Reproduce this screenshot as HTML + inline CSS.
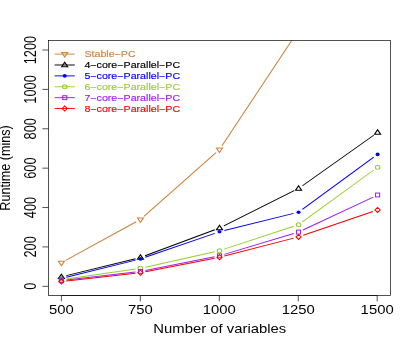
<!DOCTYPE html>
<html><head><meta charset="utf-8"><title>plot</title>
<style>html,body{margin:0;padding:0;background:#fff;}
svg{display:block;opacity:0.999;will-change:transform}
text{font-family:"Liberation Sans",sans-serif;}
</style></head><body>
<svg width="415" height="346" viewBox="0 0 415 346">
<rect width="415" height="346" fill="#fff"/>
<defs><clipPath id="cp"><rect x="41.02" y="40.55" width="289.83" height="254.95"/></clipPath></defs>
<g transform="scale(1.18,1)">
<g clip-path="url(#cp)">
<line x1="55.64" y1="260.46" x2="115.42" y2="221.74" stroke="#CD853F" stroke-width="0.95"/>
<line x1="122.00" y1="216.30" x2="183.04" y2="152.70" stroke="#CD853F" stroke-width="0.95"/>
<line x1="188.12" y1="145.85" x2="250.90" y2="33.95" stroke="#CD853F" stroke-width="0.95"/>
<g transform="translate(52.03,262.80) scale(1.0085,1)"><path d="M0 2.95L2.55 -1.48L-2.55 -1.48Z" stroke="#CD853F" stroke-width="1.0" fill="none"/></g>
<g transform="translate(119.03,219.40) scale(1.0085,1)"><path d="M0 2.95L2.55 -1.48L-2.55 -1.48Z" stroke="#CD853F" stroke-width="1.0" fill="none"/></g>
<g transform="translate(186.02,149.60) scale(1.0085,1)"><path d="M0 2.95L2.55 -1.48L-2.55 -1.48Z" stroke="#CD853F" stroke-width="1.0" fill="none"/></g>
<g transform="translate(253.01,30.20) scale(1.0085,1)"><path d="M0 2.95L2.55 -1.48L-2.55 -1.48Z" stroke="#CD853F" stroke-width="1.0" fill="none"/></g>
<line x1="56.17" y1="275.61" x2="114.89" y2="258.69" stroke="#000000" stroke-width="0.95"/>
<line x1="122.96" y1="255.77" x2="182.08" y2="229.73" stroke="#000000" stroke-width="0.95"/>
<line x1="189.72" y1="225.82" x2="249.30" y2="190.68" stroke="#000000" stroke-width="0.95"/>
<line x1="256.31" y1="185.74" x2="316.70" y2="135.26" stroke="#000000" stroke-width="0.95"/>
<g transform="translate(52.03,276.80) scale(1.0085,1)"><path d="M0 -2.65L2.55 1.78L-2.55 1.78Z" stroke="#000000" stroke-width="1.0" fill="none"/></g>
<g transform="translate(119.03,257.50) scale(1.0085,1)"><path d="M0 -2.65L2.55 1.78L-2.55 1.78Z" stroke="#000000" stroke-width="1.0" fill="none"/></g>
<g transform="translate(186.02,228.00) scale(1.0085,1)"><path d="M0 -2.65L2.55 1.78L-2.55 1.78Z" stroke="#000000" stroke-width="1.0" fill="none"/></g>
<g transform="translate(253.01,188.50) scale(1.0085,1)"><path d="M0 -2.65L2.55 1.78L-2.55 1.78Z" stroke="#000000" stroke-width="1.0" fill="none"/></g>
<g transform="translate(320.00,132.50) scale(1.0085,1)"><path d="M0 -2.65L2.55 1.78L-2.55 1.78Z" stroke="#000000" stroke-width="1.0" fill="none"/></g>
<line x1="56.16" y1="277.20" x2="114.90" y2="260.10" stroke="#0000FF" stroke-width="0.95"/>
<line x1="123.01" y1="257.28" x2="182.03" y2="233.32" stroke="#0000FF" stroke-width="0.95"/>
<line x1="190.15" y1="230.50" x2="248.88" y2="213.40" stroke="#0000FF" stroke-width="0.95"/>
<line x1="256.26" y1="209.39" x2="316.74" y2="157.21" stroke="#0000FF" stroke-width="0.95"/>
<g transform="translate(52.03,278.40) scale(0.9576,1)"><circle r="1.8" fill="#0000FF"/></g>
<g transform="translate(119.03,258.90) scale(0.9576,1)"><circle r="1.8" fill="#0000FF"/></g>
<g transform="translate(186.02,231.70) scale(0.9576,1)"><circle r="1.8" fill="#0000FF"/></g>
<g transform="translate(253.01,212.20) scale(0.9576,1)"><circle r="1.8" fill="#0000FF"/></g>
<g transform="translate(320.00,154.40) scale(0.9576,1)"><circle r="1.8" fill="#0000FF"/></g>
<line x1="56.27" y1="279.07" x2="114.79" y2="269.03" stroke="#9ACD32" stroke-width="0.95"/>
<line x1="123.18" y1="267.21" x2="181.86" y2="251.79" stroke="#9ACD32" stroke-width="0.95"/>
<line x1="190.03" y1="249.14" x2="249.00" y2="226.26" stroke="#9ACD32" stroke-width="0.95"/>
<line x1="256.27" y1="221.90" x2="316.74" y2="170.00" stroke="#9ACD32" stroke-width="0.95"/>
<g transform="translate(52.03,279.80) scale(0.9576,1)"><circle r="2.0" stroke="#9ACD32" stroke-width="1.0" fill="none"/></g>
<g transform="translate(119.03,268.30) scale(0.9576,1)"><circle r="2.0" stroke="#9ACD32" stroke-width="1.0" fill="none"/></g>
<g transform="translate(186.02,250.70) scale(0.9576,1)"><circle r="2.0" stroke="#9ACD32" stroke-width="1.0" fill="none"/></g>
<g transform="translate(253.01,224.70) scale(0.9576,1)"><circle r="2.0" stroke="#9ACD32" stroke-width="1.0" fill="none"/></g>
<g transform="translate(320.00,167.20) scale(0.9576,1)"><circle r="2.0" stroke="#9ACD32" stroke-width="1.0" fill="none"/></g>
<line x1="56.29" y1="280.01" x2="114.77" y2="271.99" stroke="#A020F0" stroke-width="0.95"/>
<line x1="123.21" y1="270.42" x2="181.83" y2="256.78" stroke="#A020F0" stroke-width="0.95"/>
<line x1="190.07" y1="254.37" x2="248.95" y2="233.53" stroke="#A020F0" stroke-width="0.95"/>
<line x1="256.77" y1="230.02" x2="316.24" y2="197.08" stroke="#A020F0" stroke-width="0.95"/>
<g transform="translate(52.03,280.60) scale(0.8898,1)"><rect x="-1.95" y="-1.95" width="3.9" height="3.9" stroke="#A020F0" stroke-width="1.0" fill="none"/></g>
<g transform="translate(119.03,271.40) scale(0.8898,1)"><rect x="-1.95" y="-1.95" width="3.9" height="3.9" stroke="#A020F0" stroke-width="1.0" fill="none"/></g>
<g transform="translate(186.02,255.80) scale(0.8898,1)"><rect x="-1.95" y="-1.95" width="3.9" height="3.9" stroke="#A020F0" stroke-width="1.0" fill="none"/></g>
<g transform="translate(253.01,232.10) scale(0.8898,1)"><rect x="-1.95" y="-1.95" width="3.9" height="3.9" stroke="#A020F0" stroke-width="1.0" fill="none"/></g>
<g transform="translate(320.00,195.00) scale(0.8898,1)"><rect x="-1.95" y="-1.95" width="3.9" height="3.9" stroke="#A020F0" stroke-width="1.0" fill="none"/></g>
<line x1="56.30" y1="281.03" x2="114.76" y2="273.27" stroke="#FF0000" stroke-width="0.95"/>
<line x1="123.22" y1="271.74" x2="181.83" y2="258.26" stroke="#FF0000" stroke-width="0.95"/>
<line x1="190.13" y1="256.05" x2="248.89" y2="238.15" stroke="#FF0000" stroke-width="0.95"/>
<line x1="257.00" y1="235.29" x2="316.01" y2="211.51" stroke="#FF0000" stroke-width="0.95"/>
<g transform="translate(52.03,281.60) scale(0.8644,1)"><path d="M-2.55 0L0 -2.55L2.55 0L0 2.55Z" stroke="#FF0000" stroke-width="1.0" fill="none"/></g>
<g transform="translate(119.03,272.70) scale(0.8644,1)"><path d="M-2.55 0L0 -2.55L2.55 0L0 2.55Z" stroke="#FF0000" stroke-width="1.0" fill="none"/></g>
<g transform="translate(186.02,257.30) scale(0.8644,1)"><path d="M-2.55 0L0 -2.55L2.55 0L0 2.55Z" stroke="#FF0000" stroke-width="1.0" fill="none"/></g>
<g transform="translate(253.01,236.90) scale(0.8644,1)"><path d="M-2.55 0L0 -2.55L2.55 0L0 2.55Z" stroke="#FF0000" stroke-width="1.0" fill="none"/></g>
<g transform="translate(320.00,209.90) scale(0.8644,1)"><path d="M-2.55 0L0 -2.55L2.55 0L0 2.55Z" stroke="#FF0000" stroke-width="1.0" fill="none"/></g>
</g>
<line x1="46.27" y1="54.10" x2="63.39" y2="54.10" stroke="#CD853F" stroke-width="0.95"/>
<g transform="translate(54.83,54.10) scale(1.0085,1)"><path d="M0 2.95L2.55 -1.48L-2.55 -1.48Z" stroke="#CD853F" stroke-width="1.0" fill="none"/></g>
<line x1="46.27" y1="64.99" x2="63.39" y2="64.99" stroke="#000000" stroke-width="0.95"/>
<g transform="translate(54.83,64.99) scale(1.0085,1)"><path d="M0 -2.65L2.55 1.78L-2.55 1.78Z" stroke="#000000" stroke-width="1.0" fill="none"/></g>
<line x1="46.27" y1="75.88" x2="63.39" y2="75.88" stroke="#0000FF" stroke-width="0.95"/>
<g transform="translate(54.83,75.88) scale(0.9576,1)"><circle r="1.8" fill="#0000FF"/></g>
<line x1="46.27" y1="86.77" x2="63.39" y2="86.77" stroke="#9ACD32" stroke-width="0.95"/>
<g transform="translate(54.83,86.77) scale(0.9576,1)"><circle r="2.0" stroke="#9ACD32" stroke-width="1.0" fill="none"/></g>
<line x1="46.27" y1="97.66" x2="63.39" y2="97.66" stroke="#A020F0" stroke-width="0.95"/>
<g transform="translate(54.83,97.66) scale(0.8898,1)"><rect x="-1.95" y="-1.95" width="3.9" height="3.9" stroke="#A020F0" stroke-width="1.0" fill="none"/></g>
<line x1="46.27" y1="108.55" x2="63.39" y2="108.55" stroke="#FF0000" stroke-width="0.95"/>
<g transform="translate(54.83,108.55) scale(0.8644,1)"><path d="M-2.55 0L0 -2.55L2.55 0L0 2.55Z" stroke="#FF0000" stroke-width="1.0" fill="none"/></g>
</g>
<rect x="48.4" y="40.55" width="342.00" height="254.95" fill="none" stroke="#000" stroke-width="0.68"/>
<line x1="61.40" y1="295.5" x2="377.20" y2="295.5" stroke="#000" stroke-width="0.68"/>
<line x1="61.40" y1="295.5" x2="61.40" y2="301.3" stroke="#000" stroke-width="0.68"/>
<line x1="140.35" y1="295.5" x2="140.35" y2="301.3" stroke="#000" stroke-width="0.68"/>
<line x1="219.30" y1="295.5" x2="219.30" y2="301.3" stroke="#000" stroke-width="0.68"/>
<line x1="298.25" y1="295.5" x2="298.25" y2="301.3" stroke="#000" stroke-width="0.68"/>
<line x1="377.20" y1="295.5" x2="377.20" y2="301.3" stroke="#000" stroke-width="0.68"/>
<line x1="48.4" y1="286.30" x2="42.40" y2="286.30" stroke="#000" stroke-width="0.68"/>
<line x1="48.4" y1="246.92" x2="42.40" y2="246.92" stroke="#000" stroke-width="0.68"/>
<line x1="48.4" y1="207.54" x2="42.40" y2="207.54" stroke="#000" stroke-width="0.68"/>
<line x1="48.4" y1="168.16" x2="42.40" y2="168.16" stroke="#000" stroke-width="0.68"/>
<line x1="48.4" y1="128.78" x2="42.40" y2="128.78" stroke="#000" stroke-width="0.68"/>
<line x1="48.4" y1="89.40" x2="42.40" y2="89.40" stroke="#000" stroke-width="0.68"/>
<line x1="48.4" y1="50.02" x2="42.40" y2="50.02" stroke="#000" stroke-width="0.68"/>
<text transform="translate(61.35,313.75) scale(1.19,1)" font-size="12.5" text-anchor="middle">500</text>
<text transform="translate(140.30,313.75) scale(1.19,1)" font-size="12.5" text-anchor="middle">750</text>
<text transform="translate(219.25,313.75) scale(1.19,1)" font-size="12.5" text-anchor="middle">1000</text>
<text transform="translate(298.20,313.75) scale(1.19,1)" font-size="12.5" text-anchor="middle">1250</text>
<text transform="translate(377.15,313.75) scale(1.19,1)" font-size="12.5" text-anchor="middle">1500</text>
<text transform="translate(219.8,333.0) scale(1.24,1)" font-size="12" text-anchor="middle">Number of variables</text>
<text transform="translate(35.8,286.30) scale(1.31,1) rotate(-90)" font-size="12.8" text-anchor="middle">0</text>
<text transform="translate(35.8,246.92) scale(1.31,1) rotate(-90)" font-size="12.8" text-anchor="middle">200</text>
<text transform="translate(35.8,207.54) scale(1.31,1) rotate(-90)" font-size="12.8" text-anchor="middle">400</text>
<text transform="translate(35.8,168.16) scale(1.31,1) rotate(-90)" font-size="12.8" text-anchor="middle">600</text>
<text transform="translate(35.8,128.78) scale(1.31,1) rotate(-90)" font-size="12.8" text-anchor="middle">800</text>
<text transform="translate(35.8,89.40) scale(1.31,1) rotate(-90)" font-size="12.8" text-anchor="middle">1000</text>
<text transform="translate(35.8,50.02) scale(1.31,1) rotate(-90)" font-size="12.8" text-anchor="middle">1200</text>
<text transform="translate(10.3,168) scale(1.15,1) rotate(-90)" font-size="12.6" text-anchor="middle">Runtime (mins)</text>
<text transform="translate(84.4,57.10) scale(1.147,1)" font-size="9.3" fill="#CD853F" stroke="#CD853F" stroke-width="0.15">Stable<tspan dy="1.1">−</tspan><tspan dy="-1.1">PC</tspan></text>
<text transform="translate(84.4,67.99) scale(1.147,1)" font-size="9.3" fill="#000000" stroke="#000000" stroke-width="0.15">4<tspan dy="1.1">−</tspan><tspan dy="-1.1">core</tspan><tspan dy="1.1">−</tspan><tspan dy="-1.1">Parallel</tspan><tspan dy="1.1">−</tspan><tspan dy="-1.1">PC</tspan></text>
<text transform="translate(84.4,78.88) scale(1.147,1)" font-size="9.3" fill="#0000FF" stroke="#0000FF" stroke-width="0.15">5<tspan dy="1.1">−</tspan><tspan dy="-1.1">core</tspan><tspan dy="1.1">−</tspan><tspan dy="-1.1">Parallel</tspan><tspan dy="1.1">−</tspan><tspan dy="-1.1">PC</tspan></text>
<text transform="translate(84.4,89.77) scale(1.147,1)" font-size="9.3" fill="#9ACD32" stroke="#9ACD32" stroke-width="0.15">6<tspan dy="1.1">−</tspan><tspan dy="-1.1">core</tspan><tspan dy="1.1">−</tspan><tspan dy="-1.1">Parallel</tspan><tspan dy="1.1">−</tspan><tspan dy="-1.1">PC</tspan></text>
<text transform="translate(84.4,100.66) scale(1.147,1)" font-size="9.3" fill="#A020F0" stroke="#A020F0" stroke-width="0.15">7<tspan dy="1.1">−</tspan><tspan dy="-1.1">core</tspan><tspan dy="1.1">−</tspan><tspan dy="-1.1">Parallel</tspan><tspan dy="1.1">−</tspan><tspan dy="-1.1">PC</tspan></text>
<text transform="translate(84.4,111.55) scale(1.147,1)" font-size="9.3" fill="#FF0000" stroke="#FF0000" stroke-width="0.15">8<tspan dy="1.1">−</tspan><tspan dy="-1.1">core</tspan><tspan dy="1.1">−</tspan><tspan dy="-1.1">Parallel</tspan><tspan dy="1.1">−</tspan><tspan dy="-1.1">PC</tspan></text>
</svg></body></html>
